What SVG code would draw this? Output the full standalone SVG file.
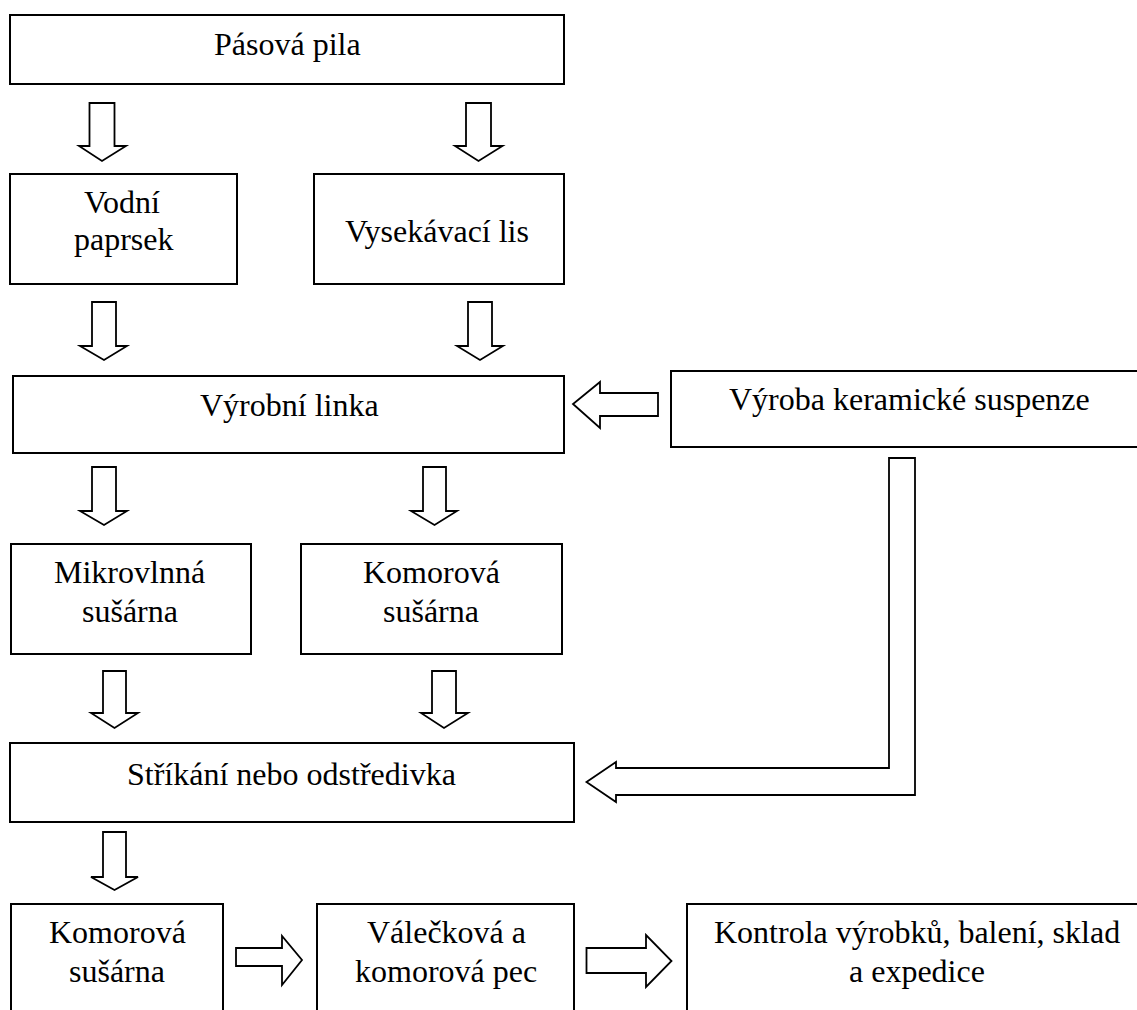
<svg xmlns="http://www.w3.org/2000/svg" width="1137" height="1010" viewBox="0 0 1137 1010">
<style>
.box{fill:#fff;stroke:#000;stroke-width:2}
.arr{fill:#fff;stroke:#000;stroke-width:1.8}
</style>
<rect width="1137" height="1010" fill="#fff"/>
<g id="connectors">
<path class="arr" d="M89.5,103 H114.5 V146 H126 L102,161 L79,146 H89.5 Z"/>
<path class="arr" d="M466,103 H491 V146 H502.5 L478.5,161 L455,146 H466 Z"/>
<path class="arr" d="M92,302 H116 V346 H127 L104,360 L80,346 H92 Z"/>
<path class="arr" d="M468,302 H492 V346 H503 L480,360 L457,346 H468 Z"/>
<path class="arr" d="M92,467 H116 V511 H127 L104,525 L80,511 H92 Z"/>
<path class="arr" d="M423,467 H446 V511 H457 L434.5,525 L411,511 H423 Z"/>
<path class="arr" d="M103,671 H126 V713 H138 L114.5,728 L91,713 H103 Z"/>
<path class="arr" d="M432,671 H456 V713 H468 L444,728 L421,713 H432 Z"/>
<path class="arr" d="M103,832 H126 V877 H138 L114.5,890 L91,877 H103 Z"/>
<path class="arr" d="M236,948 H282 V936 L302,960 L282,985 V966 H236 Z"/>
<path class="arr" d="M586.5,948 H646 V935 L671.5,961 L646,987 V973 H586.5 Z"/>
<path class="arr" d="M658,393 H600 V382 L573,404 L600,428 V416 H658 Z"/>
<path class="arr" d="M889,458 H915 V795 H616 V802 L586.5,782 L616,762 V768 H889 Z"/>
</g>
<g id="n-pasova-pila">
<rect class="box" x="10" y="15" width="554" height="69"/>
<text x="214" y="55" font-family="Liberation Serif" font-size="32">Pásová pila</text>
</g>
<g id="n-vodni-paprsek">
<rect class="box" x="10" y="174" width="227" height="110"/>
<text x="84" y="213" font-family="Liberation Serif" font-size="32">Vodní</text>
<text x="74" y="250" font-family="Liberation Serif" font-size="32">paprsek</text>
</g>
<g id="n-vysekavaci-lis">
<rect class="box" x="314" y="174" width="250" height="110"/>
<text x="345" y="242" font-family="Liberation Serif" font-size="32">Vysekávací lis</text>
</g>
<g id="n-vyrobni-linka">
<rect class="box" x="13" y="376" width="551" height="77"/>
<text x="200" y="416" font-family="Liberation Serif" font-size="32">Výrobní linka</text>
</g>
<g id="n-vyroba-suspenze">
<rect class="box" x="671" y="371" width="480" height="76"/>
<text x="729" y="410" font-family="Liberation Serif" font-size="32">Výroba keramické suspenze</text>
</g>
<g id="n-mikrovlnna-susarna">
<rect class="box" x="11" y="544" width="240" height="110"/>
<text x="54" y="583" font-family="Liberation Serif" font-size="32">Mikrovlnná</text>
<text x="82" y="622" font-family="Liberation Serif" font-size="32">sušárna</text>
</g>
<g id="n-komorova-susarna-1">
<rect class="box" x="301" y="544" width="261" height="110"/>
<text x="363" y="583" font-family="Liberation Serif" font-size="32">Komorová</text>
<text x="383" y="622" font-family="Liberation Serif" font-size="32">sušárna</text>
</g>
<g id="n-strikani">
<rect class="box" x="10" y="743" width="564" height="79"/>
<text x="127" y="785" font-family="Liberation Serif" font-size="32">Stříkání nebo odstředivka</text>
</g>
<g id="n-komorova-susarna-2">
<rect class="box" x="11" y="904" width="212" height="120"/>
<text x="49" y="943" font-family="Liberation Serif" font-size="32">Komorová</text>
<text x="69" y="982" font-family="Liberation Serif" font-size="32">sušárna</text>
</g>
<g id="n-valeckova-pec">
<rect class="box" x="317" y="904" width="257" height="120"/>
<text x="367" y="943" font-family="Liberation Serif" font-size="32">Válečková a</text>
<text x="355" y="982" font-family="Liberation Serif" font-size="32">komorová pec</text>
</g>
<g id="n-kontrola">
<rect class="box" x="687" y="904" width="470" height="120"/>
<text x="714" y="943" font-family="Liberation Serif" font-size="32">Kontrola výrobků, balení, sklad</text>
<text x="849" y="982" font-family="Liberation Serif" font-size="32">a expedice</text>
</g>
</svg>
